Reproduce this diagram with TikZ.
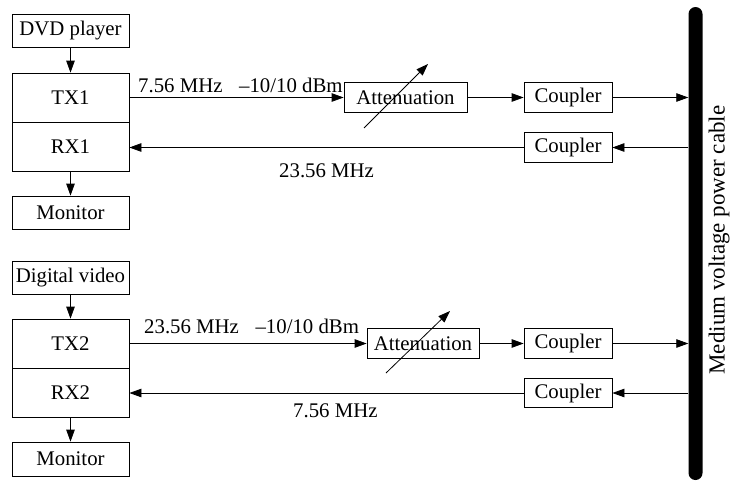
\documentclass[tikz,border=0pt]{standalone}
\usepackage{fontspec}
\setmainfont{Liberation Serif}
\usetikzlibrary{arrows.meta}
\begin{document}
\begin{tikzpicture}[x=1pt,y=-1pt,
  font=\fontsize{20.8}{24}\selectfont,
  box/.style={draw, line width=0.8pt, inner sep=0pt, minimum width=117pt, align=center},
  blk/.style={draw, line width=0.8pt, inner sep=0pt, minimum height=29.5pt},
  conn/.style={line width=0.8pt, -{Triangle[length=12pt,width=8.5pt]}},
  lbl/.style={anchor=base west, inner sep=0pt}
]
\useasboundingbox (0,0) rectangle (730,482);
% cable
\node[fill=black, rounded corners=7pt, minimum width=14pt, minimum height=473pt, inner sep=0pt] (cable) at (695.5,243.5) {};
\node[rotate=90, font=\fontsize{23}{26}\selectfont] (cabletxt) at (719,240) {Medium voltage power cable};

% upper system
\node[box, minimum height=33pt] (dvd) at (70.5,30.5) {DVD player};
\node[box, minimum height=49pt] (tx1) at (70.5,97.5) {TX1};
\node[box, minimum height=49pt] (rx1) at (70.5,146.5) {RX1};
\node[box, minimum height=33pt] (mon1) at (70.5,212.5) {Monitor};
\node[blk, minimum width=123pt] (att1) at (405.5,97.5) {Attenuation};
\node[blk, minimum width=88pt] (cp1) at (568,97.5) {Coupler};
\node[blk, minimum width=88pt] (cp2) at (568,147.5) {Coupler};

\draw[conn] (dvd) -- (tx1);
\draw[conn] (rx1) -- (mon1);
\draw[conn] (tx1.east) -- (att1.west);
\draw[conn] (att1) -- (cp1);
\draw[conn] (cp1.east) -- (cp1.east -| cable.west);
\draw[conn] (cp2.east -| cable.west) -- (cp2.east);
\draw[conn] (cp2.west) -- (cp2.west -| rx1.east);
\draw[conn] ([shift={(-41.5,30.5)}]att1.center) -- ([shift={(22.5,-33.5)}]att1.center);
\node[lbl] (l1) at (138,92) {7.56 MHz\hspace{0.8em}–10/10 dBm};
\node[lbl] (l2) at (279,177) {23.56 MHz};

% lower system
\node[box, minimum height=33pt] (dig) at (70.5,277.5) {Digital video};
\node[box, minimum height=49pt] (tx2) at (70.5,343.5) {TX2};
\node[box, minimum height=49pt] (rx2) at (70.5,392.5) {RX2};
\node[box, minimum height=34pt] (mon2) at (70.5,459) {Monitor};
\node[blk, minimum width=112pt] (att2) at (423,343.5) {Attenuation};
\node[blk, minimum width=88pt] (cp3) at (568,343.5) {Coupler};
\node[blk, minimum width=88pt] (cp4) at (568,393) {Coupler};

\draw[conn] (dig) -- (tx2);
\draw[conn] (rx2) -- (mon2);
\draw[conn] (tx2.east) -- (tx2.east -| att2.west);
\draw[conn] (att2) -- (cp3);
\draw[conn] (cp3.east) -- (cp3.east -| cable.west);
\draw[conn] (cp4.east -| cable.west) -- (cp4.east);
\draw[conn] (cp4.west) -- (cp4.west -| rx2.east);
\draw[conn] ([shift={(-37,29.5)}]att2.center) -- ([shift={(27,-32.5)}]att2.center);
\node[lbl] (l3) at (144,333) {23.56 MHz\hspace{0.8em}–10/10 dBm};
\node[lbl] (l4) at (293,417) {7.56 MHz};
\end{tikzpicture}
\end{document}
